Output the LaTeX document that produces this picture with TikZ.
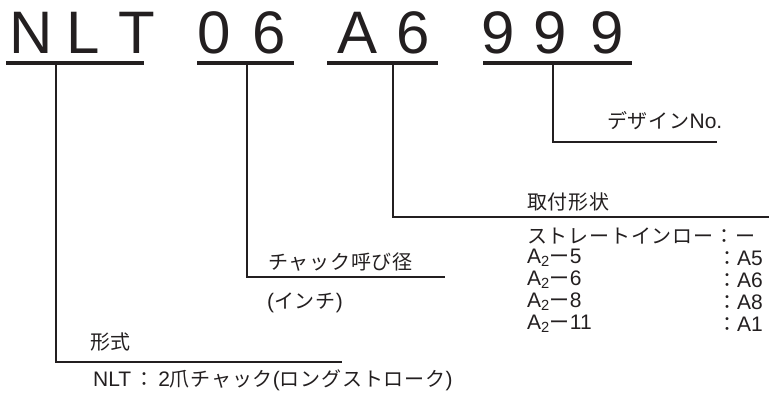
\documentclass[tikz,border=0pt]{standalone}
\usepackage{fontspec}
\setmainfont{Liberation Sans}
\newfontfamily\jpfont[LetterSpace=4]{Noto Sans CJK JP}
\usetikzlibrary{positioning}
\definecolor{ink}{RGB}{35,31,32}
\newcommand{\jt}[1]{{\jpfont\fontsize{20}{22}\selectfont #1}} % Japanese part of a label
\tikzset{
  code/.style={font=\fontsize{60}{60}\selectfont, inner sep=0pt, anchor=base, text=ink},
  uline/.style={line width=4pt, draw=ink},
  lead/.style={line width=1.8pt, draw=ink},
  lbl/.style={font=\fontsize{21}{22}\selectfont, inner sep=0pt, anchor=west, text=ink},
}

\begin{document}
\begin{tikzpicture}[x=1pt,y=-1pt]
\useasboundingbox (0,0) rectangle (769,399);

% Model code letters
\foreach \ch/\cx in {N/31.5,L/83.5,T/137,0/214,6/269.5,A/358,6/413.5,9/498,9/550,9/607.5}
{
    \node[code] at (\cx,53) {\ch};
}

% Underlines below each group
\draw[uline] (6,63) -- (144,63);
\draw[uline] (197,63) -- (294,63);
\draw[uline] (327,63) -- (438,63);
\draw[uline] (483,63) -- (632,63);

% Start points of the leaders
\coordinate (typeU) at (56,65);
\coordinate (sizeU) at (247,65);
\coordinate (mountU) at (393,65);
\coordinate (designU) at (553,65);

% Ends of the leaders
\coordinate (typeE) at (342,362);
\coordinate (sizeE) at (445,277);
\coordinate (mountE) at (769,217);
\coordinate (designE) at (717,142);

% Leaders
\draw[lead] (typeU) |- (typeE);
\draw[lead] (sizeU) |- (sizeE);
\draw[lead] (mountU) |- (mountE);
\draw[lead] (designU) |- (designE);

% Labels
\node[lbl] (design) at (607,121) {\jt{デザイン}No.};
\node[lbl] (mount) at (527,202) {\jt{取付形状}};
\node[lbl] (straight) at (527,236) {\jt{ストレートインロー：ー}};
\node[lbl] (mA5) at (527,258) {A\textsubscript{2}\jt{ー}5};
\node[lbl] (mA6) at (527,280) {A\textsubscript{2}\jt{ー}6};
\node[lbl] (mA8) at (527,302) {A\textsubscript{2}\jt{ー}8};
\node[lbl] (mA11) at (527,324) {A\textsubscript{2}\jt{ー}11};
\node[lbl] (cA5) at (717,258) {\jt{：}A5};
\node[lbl] (cA6) at (717,280) {\jt{：}A6};
\node[lbl] (cA8) at (717,302) {\jt{：}A8};
\node[lbl] (cA11) at (717,324) {\jt{：}A1};
\node[lbl] (size) at (268,262) {\jt{チャック呼び径}};
\node[lbl] (inch) at (267,303) {(\jt{インチ})};
\node[lbl] (type) at (90,342) {\jt{形式}};
\node[lbl] (nlt) at (93,380) {NLT\,\jt{：}\,2\jt{爪チャック}(\jt{ロングストローク})};

\end{tikzpicture}
\end{document}
